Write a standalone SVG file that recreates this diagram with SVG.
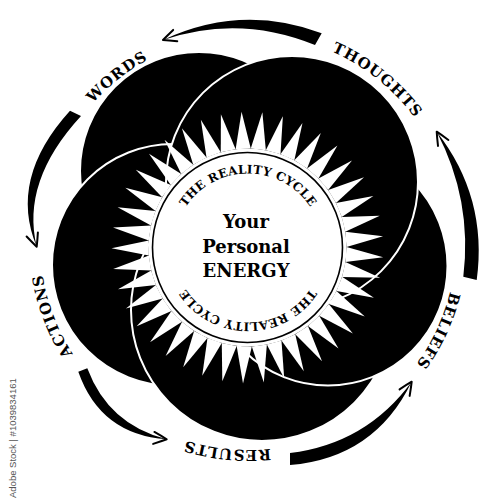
<svg xmlns="http://www.w3.org/2000/svg" width="500" height="500" viewBox="0 0 500 500">
<style>
.petal{fill:#000;stroke:#fff;stroke-width:2}
.lbl{font-family:"DejaVu Serif","Liberation Serif",serif;font-weight:bold;font-size:15px;letter-spacing:1px;fill:#000}
.cyc{font-family:"DejaVu Serif","Liberation Serif",serif;font-weight:bold;font-size:12px;letter-spacing:0.3px;fill:#000}
.main{font-family:"DejaVu Serif","Liberation Serif",serif;font-weight:bold;font-size:18px;fill:#000;text-anchor:middle}
.arrow{fill:#000}
.head{fill:none;stroke:#000;stroke-width:2;stroke-linecap:round;stroke-linejoin:round}
.wm{font-family:"Liberation Sans",Arial,sans-serif;font-size:9.5px;fill:#555}
</style>
<defs>
<path id="ring" d="M40,242 A208,208 0 1 1 456,242 A208,208 0 1 1 40,242"/>
<path id="inring" d="M173.5,248 A74.5,74.5 0 1 1 322.5,248 A74.5,74.5 0 1 1 173.5,248"/>
<path id="ray" d="M0,-136 L7.58,-98.71 L-7.58,-98.71 Z" fill="#fff"/>
<path id="ah" d="M-13,-6 Q-5,-2.5 0,0 Q-5,2.5 -13,6" class="head"/>
</defs>
<rect width="500" height="500" fill="#fff"/>
<g id="petals">
<circle id="petal-topleft" class="petal" cx="199" cy="171" r="119"/>
<circle id="petal-left" class="petal" cx="173" cy="265" r="121"/>
<circle id="petal-bottom" class="petal" cx="262" cy="310" r="131"/>
<circle id="petal-rightlower" class="petal" cx="328" cy="266" r="119.5"/>
<circle id="petal-topright" class="petal" cx="292" cy="182" r="126"/>
</g>
<g id="sun" transform="translate(247.5,247.5)">
<circle r="99" fill="#fff"/>
<use href="#ray" transform="rotate(-2.5)"/>
<use href="#ray" transform="rotate(6.28)"/>
<use href="#ray" transform="rotate(15.06)"/>
<use href="#ray" transform="rotate(23.84)"/>
<use href="#ray" transform="rotate(32.62)"/>
<use href="#ray" transform="rotate(41.40)"/>
<use href="#ray" transform="rotate(50.18)"/>
<use href="#ray" transform="rotate(58.96)"/>
<use href="#ray" transform="rotate(67.74)"/>
<use href="#ray" transform="rotate(76.52)"/>
<use href="#ray" transform="rotate(85.30)"/>
<use href="#ray" transform="rotate(94.09)"/>
<use href="#ray" transform="rotate(102.87)"/>
<use href="#ray" transform="rotate(111.65)"/>
<use href="#ray" transform="rotate(120.43)"/>
<use href="#ray" transform="rotate(129.21)"/>
<use href="#ray" transform="rotate(137.99)"/>
<use href="#ray" transform="rotate(146.77)"/>
<use href="#ray" transform="rotate(155.55)"/>
<use href="#ray" transform="rotate(164.33)"/>
<use href="#ray" transform="rotate(173.11)"/>
<use href="#ray" transform="rotate(181.89)"/>
<use href="#ray" transform="rotate(190.67)"/>
<use href="#ray" transform="rotate(199.45)"/>
<use href="#ray" transform="rotate(208.23)"/>
<use href="#ray" transform="rotate(217.01)"/>
<use href="#ray" transform="rotate(225.79)"/>
<use href="#ray" transform="rotate(234.57)"/>
<use href="#ray" transform="rotate(243.35)"/>
<use href="#ray" transform="rotate(252.13)"/>
<use href="#ray" transform="rotate(260.91)"/>
<use href="#ray" transform="rotate(269.70)"/>
<use href="#ray" transform="rotate(278.48)"/>
<use href="#ray" transform="rotate(287.26)"/>
<use href="#ray" transform="rotate(296.04)"/>
<use href="#ray" transform="rotate(304.82)"/>
<use href="#ray" transform="rotate(313.60)"/>
<use href="#ray" transform="rotate(322.38)"/>
<use href="#ray" transform="rotate(331.16)"/>
<use href="#ray" transform="rotate(339.94)"/>
<use href="#ray" transform="rotate(348.72)"/>
<circle r="95" fill="#fff" stroke="#000" stroke-width="1.6"/>
</g>
<g id="center">
<text class="cyc" text-anchor="middle"><textPath href="#inring" startOffset="25%">THE REALITY CYCLE</textPath></text>
<text class="cyc" text-anchor="middle"><textPath href="#inring" startOffset="75%">THE REALITY CYCLE</textPath></text>
<text class="main" x="246" y="228">Your</text>
<text class="main" x="246" y="252.5">Personal</text>
<text class="main" x="246" y="277">ENERGY</text>
</g>
<g id="connectors">
<path class="arrow" d="M321.7,33.3 Q241.6,3.35 163,40 Q239,14.1 315,45 Z"/>
<use href="#ah" transform="translate(163,40) rotate(160)"/>
<path class="arrow" d="M70,110.7 Q8.25,178.7 36.7,246.7 Q20.75,181.35 81,116 Z"/>
<use href="#ah" transform="translate(36.7,246.7) rotate(70)"/>
<path class="arrow" d="M78.3,371.7 Q100.3,434.5 166.7,439.3 Q108.4,424.6 87.3,368.3 Z"/>
<use href="#ah" transform="translate(166.7,439.3) rotate(6)"/>
<path class="arrow" d="M290,465 Q374.55,458.05 411.7,381.7 Q366.15,443.65 290,453 Z"/>
<use href="#ah" transform="translate(411.7,381.7) rotate(-57)"/>
<path class="arrow" d="M476.7,280 Q487.9,197.35 436.7,131.7 Q472.6,200 463.3,276.7 Z"/>
<use href="#ah" transform="translate(436.7,131.7) rotate(-120)"/>
</g>
<g id="node-words"><text class="lbl" text-anchor="middle"><textPath href="#ring" startOffset="14.33%">WORDS</textPath></text></g>
<g id="node-thoughts"><text class="lbl" text-anchor="middle"><textPath href="#ring" startOffset="35.72%">THOUGHTS</textPath></text></g>
<g id="node-beliefs"><text class="lbl" text-anchor="middle"><textPath href="#ring" startOffset="56.94%">BELIEFS</textPath></text></g>
<g id="node-results"><text class="lbl" text-anchor="middle"><textPath href="#ring" startOffset="76.58%">RESULTS</textPath></text></g>
<g id="node-actions"><text class="lbl" text-anchor="middle"><textPath href="#ring" startOffset="94.25%">ACTIONS</textPath></text></g>
<text class="wm" x="15.5" y="498" transform="rotate(-90 15.5 498)">Adobe Stock | #1039834161</text>
</svg>
